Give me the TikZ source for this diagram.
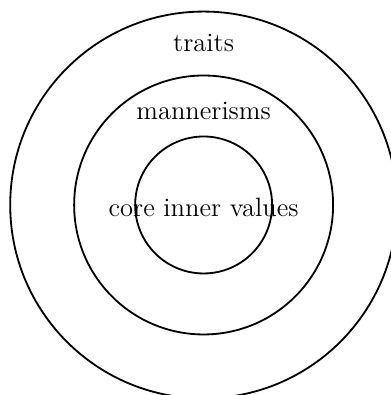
\documentclass[tikz,border=0pt]{standalone}
\begin{document}
\begin{tikzpicture}[ring/.style={draw, thick}, lbl/.style={inner sep=0pt, font=\fontsize{11.7pt}{14pt}\selectfont}]
\useasboundingbox (-89.8pt,-83.8pt) rectangle (82.3pt,90.4pt);
\draw[ring] (0,0) circle (85.3pt);
\draw[ring] (0,0) circle (57.1pt);
\draw[ring] (0,0) circle (30.2pt);
\node[lbl] (traits) at (0,71.5pt) {traits};
\node[lbl] (mann) at (0,41.5pt) {mannerisms};
\node[lbl] (core) at (0,-1pt) {core inner values};
\end{tikzpicture}
\end{document}
